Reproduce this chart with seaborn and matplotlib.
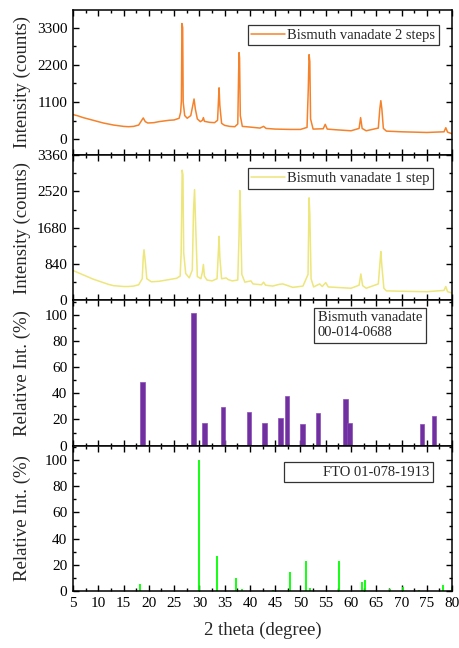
import numpy as np
import pandas as pd
import seaborn as sns
import matplotlib.pyplot as plt
from matplotlib.lines import Line2D
from matplotlib.ticker import MultipleLocator

# --- datos ---
# Bismuth vanadate 2 steps (2theta, counts)
theta_2s = [5.0, 6.0, 7.0, 8.0, 9.0, 10.0, 11.0, 12.0, 13.0, 14.0, 15.0, 16.0, 17.0, 18.0,
            18.6, 18.9, 19.3, 19.8, 21.0, 22.0, 23.0, 24.0, 25.0, 26.0, 26.3, 26.45, 26.55,
            26.7, 26.8, 27.1, 27.6, 28.3, 28.7, 28.95, 29.2, 29.6, 30.2, 30.6, 30.8, 31.0,
            32.0, 33.0, 33.6, 33.8, 33.9, 34.05, 34.4, 35.0, 36.0, 37.0, 37.6, 37.75, 37.85,
            37.95, 38.1, 38.5, 40.0, 42.0, 42.7, 43.2, 45.0, 48.0, 50.0, 51.3, 51.55, 51.7,
            51.85, 52.0, 52.5, 54.5, 54.9, 55.3, 57.0, 60.0, 61.6, 61.9, 62.2, 63.0, 65.4,
            65.7, 65.9, 66.1, 66.4, 67.0, 70.0, 75.0, 78.4, 78.75, 79.1, 80.0]
counts_2s = [730, 690, 640, 600, 560, 520, 480, 450, 420, 400, 380, 370, 380, 420,
             560, 630, 520, 480, 490, 520, 540, 560, 570, 620, 800, 1150, 3420,
             3300, 1100, 700, 620, 700, 1000, 1190, 900, 600, 520, 560, 640, 530,
             500, 490, 560, 1200, 1520, 1000, 470, 410, 380, 370, 450, 1800, 2560,
             2400, 700, 380, 360, 330, 380, 320, 300, 290, 290, 350, 1500, 2500,
             2300, 600, 300, 310, 440, 300, 280, 250, 320, 640, 320, 250, 330,
             900, 1140, 900, 320, 240, 220, 200, 220, 340, 210, 160]

# Bismuth vanadate 1 step
theta_1s = [5.0, 6.0, 7.0, 8.0, 9.0, 10.0, 11.0, 12.0, 13.0, 14.0, 15.0, 16.0, 17.0, 18.0,
            18.7, 18.9, 19.05, 19.3, 19.6, 20.5, 22.0, 24.0, 25.5, 26.2, 26.4, 26.6, 26.75,
            26.9, 27.3, 28.0, 28.6, 28.85, 29.05, 29.25, 29.6, 30.3, 30.6, 30.8, 31.0, 31.5,
            32.5, 33.5, 33.75, 33.9, 34.05, 34.4, 35.0, 35.3, 35.7, 36.5, 37.6, 37.85, 38.0,
            38.15, 38.4, 39.0, 40.2, 40.6, 42.3, 42.7, 43.1, 44.5, 45.8, 46.5, 47.0, 48.5,
            50.5, 51.5, 51.7, 51.85, 52.1, 52.6, 53.8, 54.3, 55.0, 55.5, 57.0, 60.0, 61.6,
            61.95, 62.3, 63.0, 65.4, 65.75, 65.9, 66.1, 66.5, 67.0, 70.0, 75.0, 78.4, 78.75,
            79.1, 80.0]
counts_1s = [690, 640, 590, 540, 490, 450, 410, 370, 340, 330, 320, 320, 330, 360,
             500, 1000, 1170, 900, 500, 430, 440, 480, 510, 560, 1100, 3010, 2900,
             1100, 620, 520, 700, 2100, 2560, 1800, 550, 500, 650, 830, 560, 470,
             450, 500, 1100, 1480, 1000, 500, 510, 520, 480, 450, 470, 1500, 2540,
             2000, 600, 420, 450, 380, 360, 420, 350, 330, 370, 380, 360, 300,
             330, 600, 2370, 2000, 500, 310, 380, 320, 410, 310, 300, 280, 350,
             610, 340, 280, 380, 900, 1130, 800, 280, 220, 210, 200, 230, 320,
             200, 170]

# Bismuth vanadate 00-014-0688 (barras)
bv_pos = [18.8, 28.8, 31.0, 34.7, 39.8, 42.9, 46.1, 47.3, 50.4, 53.5, 58.9, 59.75, 74.0, 76.4]
bv_int = [49, 101, 17, 29.5, 26, 17, 21.5, 38, 16.5, 25, 35.7, 17, 16.5, 22.8]

# FTO 01-078-1913 (lineas)
fto_pos = [18.35, 30.0, 33.45, 37.2, 38.4, 44.65, 47.95, 51.05, 51.9, 57.6, 62.25, 62.8,
           67.8, 70.25, 73.4, 78.2, 79.9]
fto_int = [5.6, 100, 27, 10.2, 1.2, 1.0, 14.5, 22.8, 2.0, 22.8, 6.9, 8.6, 1.5, 3.0, 1.0, 4.5, 3.0]

df_2s = pd.DataFrame({"theta": theta_2s, "counts": counts_2s})
df_1s = pd.DataFrame({"theta": theta_1s, "counts": counts_1s})

# --- estilo ---
sns.set_style("ticks")
plt.rcParams['font.family'] = ['Liberation Serif', 'DejaVu Serif']
plt.rcParams['xtick.direction'] = 'in'
plt.rcParams['ytick.direction'] = 'in'
plt.rcParams['axes.linewidth'] = 1.1

fig, axes = plt.subplots(4, 1, figsize=(4.59, 6.48), dpi=100, sharex=True,
                         gridspec_kw={'hspace': 0})
fig.subplots_adjust(left=0.159, right=0.985, top=0.985, bottom=0.088)

ax1, ax2, ax3, ax4 = axes

sns.lineplot(data=df_2s, x="theta", y="counts", ax=ax1, color="#F5822A", lw=1.1,
             label="Bismuth vanadate 2 steps")
sns.lineplot(data=df_1s, x="theta", y="counts", ax=ax2, color="#EDE67A", lw=1.1,
             label="Bismuth vanadate 1 step")

ax3.bar(bv_pos, bv_int, width=0.9, color="#7030A0", edgecolor="#8A4DB8", linewidth=0.5)
ax4.vlines(fto_pos, 0, fto_int, color="#00FF00", lw=1.3)

# ejes
ax1.set_ylim(-467, 3829)
ax1.yaxis.set_major_locator(MultipleLocator(1100))
ax1.yaxis.set_minor_locator(MultipleLocator(550))
ax2.set_ylim(0, 3360)
ax2.yaxis.set_major_locator(MultipleLocator(840))
ax2.yaxis.set_minor_locator(MultipleLocator(420))
for ax in (ax3, ax4):
    ax.set_ylim(0, 111)
    ax.yaxis.set_major_locator(MultipleLocator(20))
    ax.yaxis.set_minor_locator(MultipleLocator(10))

for ax in axes:
    ax.set_xlim(5, 80)
    ax.xaxis.set_major_locator(MultipleLocator(5))
    ax.xaxis.set_minor_locator(MultipleLocator(2.5))
    ax.tick_params(which='both', top=True, right=True, labelsize=11, width=1.0,
                   colors='black', pad=4)
    ax.tick_params(which='major', length=4.5)
    ax.tick_params(which='minor', length=2.5)
    ax.set_xlabel("")
    ax.yaxis.set_label_coords(-0.112, 0.5)
    for s in ax.spines.values():
        s.set_color('black')

ax1.set_ylabel("Intensity (counts)", fontsize=13.5)
ax2.set_ylabel("Intensity (counts)", fontsize=13.5)
ax3.set_ylabel("Relative Int. (%)", fontsize=13.5)
ax4.set_ylabel("Relative Int. (%)", fontsize=13.5)
ax4.set_xlabel("2 theta (degree)", fontsize=13.5, labelpad=9)

leg_kw = dict(loc='upper right', fancybox=False, edgecolor='#333333', framealpha=1,
              fontsize=10.5, handlelength=2.3, handletextpad=0.15, borderpad=0.25,
              borderaxespad=0)
l1 = ax1.legend(bbox_to_anchor=(0.965, 0.895), **leg_kw)
l2 = ax2.legend(bbox_to_anchor=(0.950, 0.91), **leg_kw)
l4 = ax4.legend(handles=[Line2D([], [], color='none')], labels=["FTO 01-078-1913"],
                bbox_to_anchor=(0.950, 0.89), **leg_kw)
for lg in (l1, l2, l4):
    lg.get_frame().set_linewidth(0.9)

ax3.text(0.645, 0.925, "Bismuth vanadate\n00-014-0688", transform=ax3.transAxes,
         fontsize=10.5, ha='left', va='top', linespacing=1.2,
         bbox=dict(boxstyle='square,pad=0.25', fc='white', ec='#333333', lw=0.9))

fig.savefig("out.png", dpi=100)
plt.close()
